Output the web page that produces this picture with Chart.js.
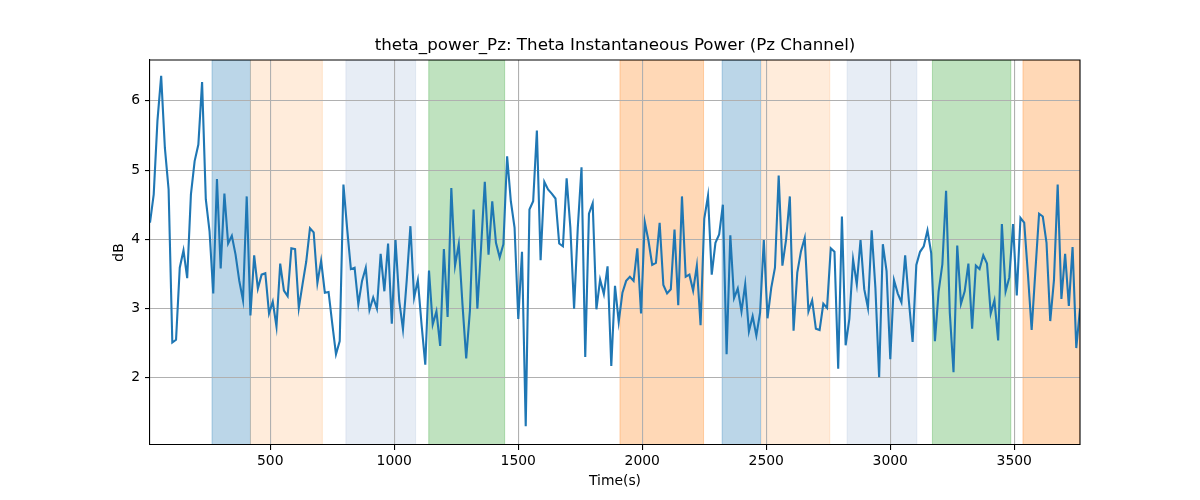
<!DOCTYPE html>
<html>
<head>
<meta charset="utf-8">
<script src="https://cdn.jsdelivr.net/npm/chart.js@4.4.0/dist/chart.umd.min.js"></script>
<style>
html,body{margin:0;padding:0;background:#fff;}
#wrap{width:1200px;height:500px;}
</style>
</head>
<body>
<div id="wrap"><canvas id="c" width="1200" height="500"></canvas></div>
<script>
const times = [
15,30,45,60,75,90,105,120,135,150,165,180,195,210,225,240,255,270,285,300,
315,330,345,360,375,390,405,420,435,450,465,480,495,510,525,540,555,570,585,600,
615,630,645,660,675,690,705,720,735,750,765,780,795,810,825,840,855,870,885,900,
915,930,945,960,975,990,1005,1020,1035,1050,1065,1080,1095,1110,1125,1140,1155,1170,1185,1200,
1215,1230,1245,1260,1275,1290,1305,1320,1335,1350,1365,1380,1395,1410,1425,1440,1455,1470,1485,1500,
1515,1530,1545,1560,1575,1590,1605,1620,1635,1650,1665,1680,1695,1710,1725,1740,1755,1770,1785,1800,
1815,1830,1845,1860,1875,1890,1905,1920,1935,1950,1965,1980,1995,2010,2025,2040,2055,2070,2085,2100,
2115,2130,2145,2160,2175,2190,2205,2220,2235,2250,2265,2280,2295,2310,2325,2340,2355,2370,2385,2400,
2415,2430,2445,2460,2475,2490,2505,2520,2535,2550,2565,2580,2595,2610,2625,2640,2655,2670,2685,2700,
2715,2730,2745,2760,2775,2790,2805,2820,2835,2850,2865,2880,2895,2910,2925,2940,2955,2970,2985,3000,
3015,3030,3045,3060,3075,3090,3105,3120,3135,3150,3165,3180,3195,3210,3225,3240,3255,3270,3285,3300,
3315,3330,3345,3360,3375,3390,3405,3420,3435,3450,3465,3480,3495,3510,3525,3540,3555,3570,3585,3600,
3615,3630,3645,3660,3675,3690,3705,3720,3735,3750,3765
];
const thetaPower = [
4.24,4.65,5.71,6.36,5.32,4.72,2.51,2.55,3.59,3.84,3.44,4.65,5.13,5.37,6.27,4.58,4.12,3.22,4.87,3.58,
4.66,3.94,4.05,3.78,3.40,3.12,4.62,2.90,3.77,3.29,3.49,3.51,2.93,3.10,2.74,3.65,3.26,3.18,3.87,3.86,
3.01,3.35,3.68,4.16,4.10,3.37,3.69,3.23,3.24,2.78,2.34,2.53,4.79,4.15,3.57,3.59,3.06,3.40,3.59,2.98,
3.16,3.00,3.79,3.25,3.94,2.78,3.99,3.11,2.70,3.40,4.19,3.16,3.41,2.77,2.19,3.55,2.77,2.96,2.46,3.86,
2.88,4.74,3.62,3.93,3.06,2.28,2.97,4.43,3.00,3.88,4.83,3.78,4.55,3.95,3.74,3.93,5.20,4.55,4.17,2.85,
3.82,1.30,4.43,4.55,5.57,3.70,4.83,4.72,4.66,4.59,3.94,3.90,4.88,4.17,3.00,4.17,5.04,2.30,4.37,4.52,
2.99,3.42,3.21,3.61,2.17,3.33,2.81,3.23,3.40,3.46,3.40,3.87,2.93,4.25,3.98,3.63,3.66,4.24,3.34,3.22,
3.28,4.14,3.05,4.62,3.46,3.49,3.26,3.62,2.76,4.30,4.63,3.49,3.95,4.07,4.50,2.34,4.06,3.15,3.29,2.96,
3.35,2.67,2.89,2.61,2.94,3.99,2.86,3.30,3.59,4.92,3.62,4.00,4.62,2.68,3.52,3.83,4.02,2.96,3.12,2.71,
2.69,3.07,3.01,3.87,3.82,2.13,4.33,2.47,2.85,3.71,3.35,3.99,3.28,3.01,4.13,3.30,2.01,3.93,3.54,2.27,
3.41,3.22,3.09,3.77,3.11,2.52,3.63,3.82,3.90,4.13,3.80,2.53,3.25,3.64,4.70,2.94,2.08,3.91,3.07,3.25,
3.65,2.71,3.62,3.57,3.77,3.65,2.93,3.12,2.54,4.22,3.25,3.45,4.22,3.19,4.31,4.24,3.50,2.69,3.54,4.37,
4.33,3.95,2.82,3.41,4.79,3.14,3.79,3.04,3.89,2.43,3.00
];
const spanStart = [265, 420, 805, 1139, 1910, 2322, 2481, 2826, 3170, 3535];
const spanEnd   = [420, 710, 1086, 1445, 2247, 2477, 2756, 3107, 3486, 3765];
const spanKind  = ['blue','lightorange','lightblue','green','orange','blue','lightorange','lightblue','green','orange'];
const xTicks = [500, 1000, 1500, 2000, 2500, 3000, 3500];
const yTicks = [2, 3, 4, 5, 6];
const chartTitle = 'theta_power_Pz: Theta Instantaneous Power (Pz Channel)';

const spanColors = {
  blue: 'rgba(31,119,180,0.3)',
  lightorange: 'rgba(255,127,14,0.15)',
  lightblue: 'rgba(176,196,222,0.3)',
  green: 'rgba(44,160,44,0.3)',
  orange: 'rgba(255,127,14,0.3)'
};

const FONT = 'DejaVu Sans';

const spanPlugin = {
  id: 'spans',
  beforeDraw(chart) {
    const ctx = chart.ctx;
    ctx.save();
    ctx.fillStyle = '#ffffff';
    ctx.fillRect(0, 0, chart.width, chart.height);
    const a = chart.chartArea;
    const xs = chart.scales.x;
    ctx.beginPath();
    ctx.rect(a.left, a.top, a.right - a.left, a.bottom - a.top);
    ctx.clip();
    for (let i = 0; i < spanStart.length; i++) {
      const x0 = xs.getPixelForValue(spanStart[i]);
      const x1 = xs.getPixelForValue(spanEnd[i]);
      ctx.fillStyle = spanColors[spanKind[i]];
      ctx.fillRect(x0, a.top, x1 - x0, a.bottom - a.top);
      ctx.strokeStyle = spanColors[spanKind[i]];
      ctx.lineWidth = 1;
      ctx.strokeRect(x0, a.top, x1 - x0, a.bottom - a.top);
    }
    ctx.restore();
  },
  afterDraw(chart) {
    const ctx = chart.ctx;
    const a = chart.chartArea;
    ctx.save();
    ctx.strokeStyle = '#000';
    ctx.lineWidth = 1.1;
    ctx.beginPath();
    ctx.moveTo(a.left, a.top);
    ctx.lineTo(a.right, a.top);
    ctx.lineTo(a.right, a.bottom);
    ctx.stroke();
    ctx.fillStyle = '#000';
    ctx.font = '16.7px "' + FONT + '"';
    ctx.textAlign = 'center';
    ctx.textBaseline = 'middle';
    ctx.fillText(chartTitle, (a.left + a.right) / 2, 46);
    ctx.restore();
  }
};

new Chart(document.getElementById('c'), {
  type: 'line',
  data: {
    datasets: [{
      label: 'theta_power_Pz',
      data: times.map((t, i) => ({x: t, y: thetaPower[i]})),
      borderColor: '#1f77b4',
      borderWidth: 2.1,
      pointRadius: 0,
      tension: 0,
      fill: false
    }]
  },
  plugins: [spanPlugin],
  options: {
    responsive: false,
    animation: false,
    devicePixelRatio: 1,
    layout: { padding: { left: 0, right: 120, top: 60, bottom: 0 } },
    plugins: {
      legend: { display: false },
      tooltip: { enabled: false },
      title: { display: false }
    },
    scales: {
      x: {
        type: 'linear',
        min: 15,
        max: 3765,
        afterBuildTicks: (s) => { s.ticks = xTicks.map(v => ({value: v})); },
        afterFit: (s) => { s.height = 55; },
        ticks: {
          color: '#000',
          font: { family: FONT, size: 13.9 },
          padding: 3,
          maxRotation: 0,
          autoSkip: false,
          callback: (v) => String(v)
        },
        grid: { color: '#b0b0b0', lineWidth: 1.1, tickColor: '#000', tickLength: 5, drawTicks: true },
        border: { display: true, color: '#000', width: 1.1 },
        title: {
          display: true,
          text: 'Time(s)',
          color: '#000',
          font: { family: FONT, size: 13.9 },
          padding: { top: 0, bottom: 10.7 }
        }
      },
      y: {
        type: 'linear',
        min: 1.03,
        max: 6.59,
        afterBuildTicks: (s) => { s.ticks = yTicks.map(v => ({value: v})); },
        afterFit: (s) => { s.width = 150; },
        ticks: {
          color: '#000',
          font: { family: FONT, size: 13.9 },
          padding: 5,
          includeBounds: false,
          callback: (v) => String(v)
        },
        grid: { color: '#b0b0b0', lineWidth: 1.1, tickColor: '#000', tickLength: 5, drawTicks: true },
        border: { display: true, color: '#000', width: 1.1 },
        title: {
          display: true,
          text: 'dB',
          color: '#000',
          font: { family: FONT, size: 13.9 },
          padding: { top: 110.7, bottom: 0 }
        }
      }
    }
  }
});
</script>
</body>
</html>
